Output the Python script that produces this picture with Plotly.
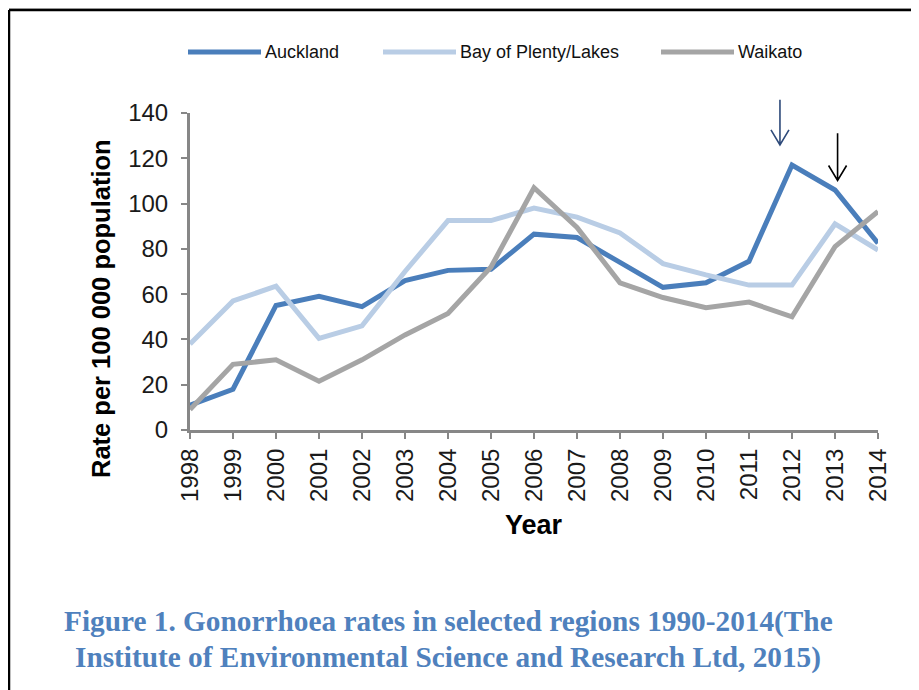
import plotly.graph_objects as go

# ---- data ----
years = list(range(1998, 2015))
series_names = ["Auckland", "Bay of Plenty/Lakes", "Waikato"]
auckland = [11, 18, 55, 59, 54.5, 66, 70.5, 71, 86.5, 85, 74, 63, 65, 74.5, 117, 106, 82.5]
bay_of_plenty = [38, 57, 63.5, 40.5, 46, 70, 92.5, 92.5, 98, 94, 87, 73.5, 68.5, 64, 64, 91, 79.5]
waikato = [9, 29, 31, 21.5, 31, 42, 51.5, 72, 107, 89.5, 65, 58.5, 54, 56.5, 50, 81, 96.5]
y_ticks = [0, 20, 40, 60, 80, 100, 120, 140]

# annotation arrows (data units): x position, top of shaft, tip
arrow_x = [2011.72, 2013.06]
arrow_top = [145.8, 131.1]
arrow_tip = [125.9, 110.2]
arrow_colors = ["#2E4A7A", "#000000"]

colors = ["#4A7EBB", "#B9CDE5", "#A5A5A5"]
values = [auckland, bay_of_plenty, waikato]

OFF = 8  # page body margin
W, H = 919 - OFF, 690 - OFF
ML, MR, MT, MB = 190 - OFF, 41, 113 - OFF, 260
PW, PH = W - ML - MR, H - MT - MB
X0, X1 = 1998, 2014
Y0, Y1 = 0, 140


def px(xp):
    return (xp - OFF - ML) / PW


def py(yp):
    return (H - MB - (yp - OFF)) / PH


def dx(x):
    return (x - X0) / (X1 - X0)


def dy(y):
    return (y - Y0) / (Y1 - Y0)


fig = go.Figure()
for name, vals, col in zip(series_names, values, colors):
    fig.add_trace(go.Scatter(x=years, y=vals, mode="lines", name=name,
                             line=dict(color=col, width=5), showlegend=False))

shapes = []
annotations = []

# frame
shapes.append(dict(type="line", xref="paper", yref="paper", x0=px(9), x1=px(930),
                   y0=py(8.5), y1=py(8.5), line=dict(color="#C8C8C8", width=1)))
shapes.append(dict(type="line", xref="paper", yref="paper", x0=px(9), x1=px(930),
                   y0=py(10), y1=py(10), line=dict(color="#000000", width=2.5)))
shapes.append(dict(type="line", xref="paper", yref="paper", x0=px(9), x1=px(9),
                   y0=py(10), y1=py(710), line=dict(color="#000000", width=2.5)))

# custom legend
leg_line_x = [188, 383, 661]
leg_y = 52
for name, col, lx in zip(series_names, colors, leg_line_x):
    shapes.append(dict(type="line", xref="paper", yref="paper", x0=px(lx), x1=px(lx + 73),
                       y0=py(leg_y), y1=py(leg_y), line=dict(color=col, width=5)))
    annotations.append(dict(xref="paper", yref="paper", x=px(lx + 75), y=py(leg_y),
                            text=name, showarrow=False, xanchor="left", yanchor="middle",
                            font=dict(family="Liberation Sans, Arial", size=18, color="#111111")))

# arrows
hw, hh = 9 / PW, 15 / PH
for ax_, at, tip, col in zip(arrow_x, arrow_top, arrow_tip, arrow_colors):
    xs, yt, yb = dx(ax_), dy(at), dy(tip)
    path = (f"M{xs},{yt} L{xs},{yb} M{xs - hw},{yb + hh} L{xs},{yb} L{xs + hw},{yb + hh}")
    shapes.append(dict(type="path", xref="paper", yref="paper", path=path,
                       line=dict(color=col, width=1.6)))

# axis titles
annotations.append(dict(xref="paper", yref="paper", x=px(101), y=py(309),
                        text="<b>Rate per 100 000 population</b>", textangle=-90,
                        showarrow=False, xanchor="center", yanchor="middle",
                        font=dict(family="Liberation Sans, Arial", size=25.5, color="#000000")))
annotations.append(dict(xref="paper", yref="paper", x=px(534), y=py(525),
                        text="<b>Year</b>", showarrow=False, xanchor="center", yanchor="middle",
                        font=dict(family="Liberation Sans, Arial", size=27, color="#000000")))

# caption
cap_font = dict(family="Liberation Serif, Times New Roman", size=29.3, color="#4F81BD")
annotations.append(dict(xref="paper", yref="paper", x=px(448), y=py(621),
                        text="<b>Figure 1. Gonorrhoea rates in selected regions 1990-2014(The</b>",
                        showarrow=False, xanchor="center", yanchor="middle", font=cap_font))
annotations.append(dict(xref="paper", yref="paper", x=px(448), y=py(657),
                        text="<b>Institute of Environmental Science and Research Ltd, 2015)</b>",
                        showarrow=False, xanchor="center", yanchor="middle", font=cap_font))

axis_common = dict(showgrid=False, zeroline=False, showline=True, linecolor="#878787",
                   linewidth=3, ticks="outside", ticklen=6, tickwidth=2, tickcolor="#878787",
                   tickfont=dict(family="Liberation Sans, Arial", size=24, color="#1A1A1A"))

fig.update_layout(
    width=W, height=H,
    margin=dict(l=ML, r=MR, t=MT, b=MB),
    paper_bgcolor="white", plot_bgcolor="white",
    xaxis=dict(range=[X0, X1], tickmode="array", tickvals=years,
               ticktext=[str(y) for y in years], tickangle=-90, **axis_common),
    yaxis=dict(range=[Y0, Y1], tickmode="array", tickvals=y_ticks,
               ticktext=[str(v) for v in y_ticks], ticklabelstandoff=8, **axis_common),
    shapes=shapes, annotations=annotations,
)

fig.write_html("out.html")
